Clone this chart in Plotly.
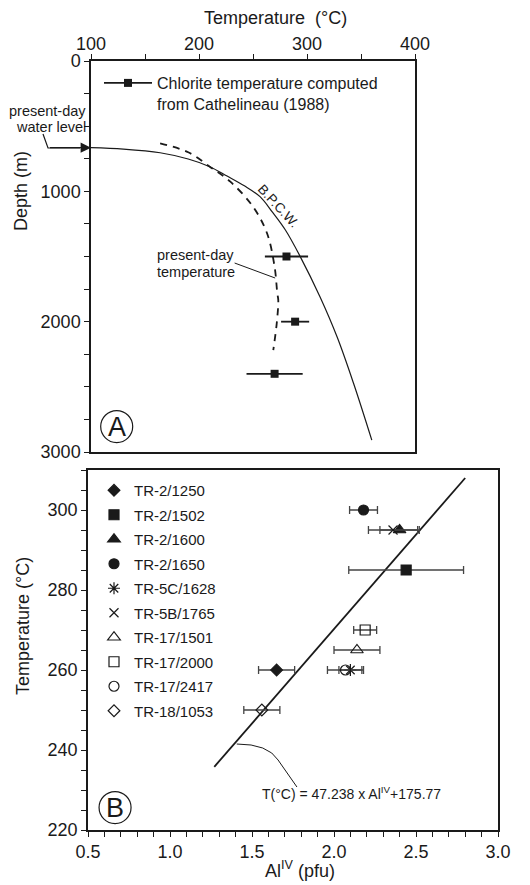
import plotly.graph_objects as go

W, H = 530, 885
FONT = "Liberation Sans, Arial, Helvetica, sans-serif"
INK = "#1a1a1a"

# ---------------- Panel A data ----------------
chl_temp = [281, 289, 270]          # chlorite temperature (°C)
chl_depth = [1500, 2000, 2400]      # depth (m)
chl_err = [20, 13, 26]              # +/- (°C)

bpcw_temp = [100, 130, 164, 190, 210, 226, 242, 256.5, 268, 280, 293.5, 312, 328, 343, 360]
bpcw_depth = [665, 676, 704, 752, 811, 883, 958, 1041, 1160, 1297, 1497, 1809, 2120, 2471, 2909]

pd_temp = [164, 190, 210, 229, 250, 263, 270, 272.5, 273.4, 272, 268.8]
pd_depth = [632, 700, 811, 926, 1118, 1322, 1579, 1783, 1834, 2011, 2218]

# ---------------- Panel B data ----------------
samples = ["TR-2/1250", "TR-2/1502", "TR-2/1600", "TR-2/1650", "TR-5C/1628",
           "TR-5B/1765", "TR-17/1501", "TR-17/2000", "TR-17/2417", "TR-18/1053"]
al_iv = [1.65, 2.44, 2.40, 2.18, 2.10, 2.36, 2.14, 2.19, 2.07, 1.56]
temp_b = [260, 285, 295, 300, 260, 295, 265, 270, 260, 250]
al_err = [0.11, 0.35, 0.12, 0.085, 0.07, 0.15, 0.14, 0.07, 0.11, 0.11]
symbols = ["diamond", "square", "triangle-up", "circle", "asterisk-open",
           "x-thin-open", "triangle-up-open", "square-open", "circle-open", "diamond-open"]
sizes = [9, 10, 11, 10, 10, 9, 11, 10, 10, 9]

fit_al = [1.27, 2.80]
fit_t = [235.8, 308.0]   # T = 47.238 x AlIV + 175.77

fig = go.Figure()

# Panel A traces
fig.add_trace(go.Scatter(x=bpcw_temp, y=bpcw_depth, mode="lines", line=dict(color=INK, width=1.2, shape="spline"),
                         showlegend=False, xaxis="x", yaxis="y"))
fig.add_trace(go.Scatter(x=pd_temp, y=pd_depth, mode="lines",
                         line=dict(color=INK, width=1.8, dash="7px,6px", shape="spline"),
                         showlegend=False, xaxis="x", yaxis="y"))
xs, ys, es = [], [], []
for t, d, e in zip(chl_temp, chl_depth, chl_err):
    xs += [t, None]
    ys += [d, None]
    es += [e, 0]
fig.add_trace(go.Scatter(x=xs, y=ys, mode="lines+markers", connectgaps=False,
                         name="Chlorite temperature computed<br>from Cathelineau (1988)",
                         marker=dict(symbol="square", size=8, color=INK),
                         line=dict(color=INK, width=1.6),
                         error_x=dict(type="data", array=es, width=0, thickness=1.8, color=INK),
                         legend="legend", xaxis="x", yaxis="y"))

# Panel B traces
fig.add_trace(go.Scatter(x=fit_al, y=fit_t, mode="lines", line=dict(color=INK, width=1.8),
                         showlegend=False, xaxis="x2", yaxis="y2"))
for i, s in enumerate(samples):
    fig.add_trace(go.Scatter(
        x=[al_iv[i]], y=[temp_b[i]], mode="markers", name=s, legend="legend2", legendgroup=s,
        marker=dict(symbol=symbols[i], size=sizes[i], color=INK, line=dict(color=INK, width=1.2)),
        error_x=dict(type="data", array=[al_err[i]], width=4, thickness=1.3, color="#444"),
        xaxis="x2", yaxis="y2"))

def px(xp):
    return xp / W

def py(yp):
    return 1 - yp / H

axis_common = dict(showline=True, linecolor=INK, linewidth=1.5, mirror=True, ticks="outside",
                   ticklen=5, tickwidth=1.2, tickcolor=INK, showgrid=False, zeroline=False,
                   automargin=False, tickfont=dict(family=FONT, size=18, color=INK))

fig.update_layout(
    width=W, height=H, margin=dict(l=0, r=0, t=0, b=0, autoexpand=False),
    paper_bgcolor="white", plot_bgcolor="white",
    font=dict(family=FONT, color=INK),
    xaxis=dict(domain=[px(91), px(415)], range=[100, 400], side="top", anchor="y",
               dtick=100, tick0=100, ticklabelstandoff=-3,
               minor=dict(dtick=50, ticks="outside", ticklen=5, tickcolor=INK),
               **axis_common),
    yaxis=dict(domain=[py(452), py(61)], range=[3000, 0], anchor="x", dtick=1000, tick0=0,
               minor=dict(dtick=250, ticks="outside", ticklen=5, tickcolor=INK), **axis_common),
    xaxis2=dict(domain=[px(88), px(498)], range=[0.5, 3.0], anchor="y2", dtick=0.5, tick0=0.5,
                tickformat=".1f", minor=dict(dtick=0.1, ticks="outside", ticklen=5, tickcolor=INK),
                **axis_common),
    yaxis2=dict(domain=[py(830), py(470)], range=[220, 310], anchor="x2", dtick=20, tick0=220,
                minor=dict(dtick=5, ticks="outside", ticklen=5, tickcolor=INK), **axis_common),
    legend=dict(x=px(99), y=py(66), xanchor="left", yanchor="top", font=dict(size=16, family=FONT),
                itemwidth=48, valign="top", bgcolor="rgba(0,0,0,0)"),
    legend2=dict(x=px(94), y=py(474), xanchor="left", yanchor="top", font=dict(size=15, family=FONT),
                 itemwidth=30, tracegroupgap=2, bgcolor="rgba(0,0,0,0)"),
)

def note(text, x, y, ref=("paper", "paper"), xa="center", ya="middle", size=18, angle=0):
    return dict(text=text, x=x, y=y, xref=ref[0], yref=ref[1], xanchor=xa, yanchor=ya,
                textangle=angle, showarrow=False, font=dict(size=size))

ann = []
ann.append(note("Temperature\u00a0 (°C)", px(275), py(18)))
ann.append(note("Depth (m)", px(21), py(191), angle=-90))
ann.append(note("Temperature (°C)", px(23), py(626), angle=-90))
ann.append(note("Al<sup>IV</sup> (pfu)", px(300), py(869)))
# panel A labels
ann.append(note("present-day", px(88), py(111), xa="right", size=14.5))
ann.append(note("water level", px(88), py(127), xa="right", size=14.5))
ann.append(dict(text=" ", x=100, y=665, xref="x", yref="y", ax=-44, ay=0, showarrow=True,
                arrowhead=2, arrowsize=1.6, arrowwidth=1.3, arrowcolor=INK, standoff=0))
ann.append(note("B.P.C.W.", 274, 1113, ref=("x", "y"), size=13.5, angle=47))
ann.append(note("present-day", 159, 1490, ref=("x", "y"), xa="left", size=14.5))
ann.append(note("temperature", 159, 1620, ref=("x", "y"), xa="left", size=14.5))
ann.append(note("A", 123.8, 2805, ref=("x", "y"), size=27))
# panel B labels
ann.append(note("T(°C) = 47.238 x Al<sup>IV</sup>+175.77", 1.55, 229.25, ref=("x2", "y2"), xa="left", size=14))
ann.append(note("B", 0.665, 225.6, ref=("x2", "y2"), size=27))
fig.update_layout(annotations=ann)

shapes = []
# water level leader bend
shapes.append(dict(type="path", xref="paper", yref="paper",
                   path=f"M {px(43)},{py(134)} L {px(48)},{py(148)} L {px(80)},{py(148)}",
                   line=dict(color=INK, width=1.2)))
shapes.append(dict(type="line", xref="x", yref="y", x0=233, y0=1550, x1=270.5, y1=1665,
                   line=dict(color=INK, width=1)))
shapes.append(dict(type="circle", xref="x", yref="y", xsizemode="pixel", ysizemode="pixel",
                   xanchor=123.8, yanchor=2805, x0=-16, x1=16, y0=-16, y1=16,
                   line=dict(color=INK, width=1.2)))
shapes.append(dict(type="circle", xref="x2", yref="y2", xsizemode="pixel", ysizemode="pixel",
                   xanchor=0.665, yanchor=225.6, x0=-16, x1=16, y0=-16, y1=16,
                   line=dict(color=INK, width=1.2)))
shapes.append(dict(type="path", xref="x2", yref="y2",
                   path="M 1.407,241.5 Q 1.598,241.5 1.659,237.5 L 1.774,230.75",
                   line=dict(color=INK, width=1)))
fig.update_layout(shapes=shapes)

fig.write_html("out.html")
